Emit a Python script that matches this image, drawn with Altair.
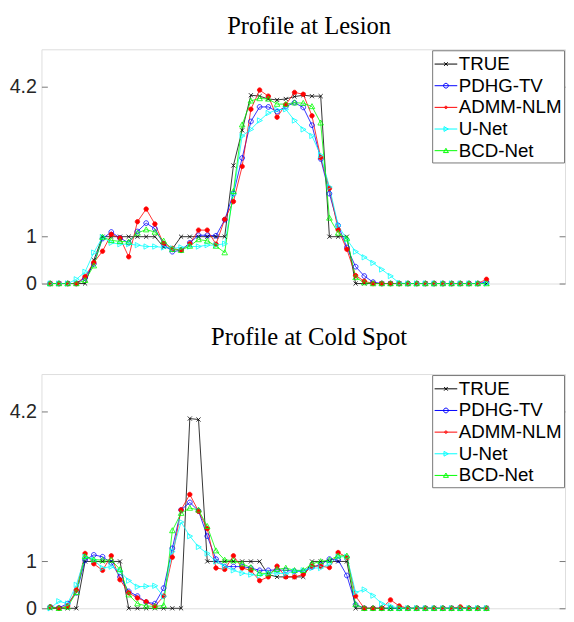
import altair as alt
import pandas as pd

methods = ["TRUE", "PDHG-TV", "ADMM-NLM", "U-Net", "BCD-Net"]
colors = ["#000000", "#0000ff", "#ff0000", "#00ffff", "#00ff00"]
x_idx = list(range(1, 52))
y_ticks = [0, 1, 4.2]

# ---- Profile at Lesion ----
lesion_true = [0, 0, 0, 0, 0, 0.5, 1, 1, 1, 1, 1, 1, 1, 0.78, 0.74, 1, 1, 1, 1, 1, 1,
               2.52, 3.27, 4.02, 4.0, 3.94, 3.92, 3.94, 3.99, 4.02, 4.0, 4.0, 1, 1, 1,
               0, 0, 0, 0, 0, 0, 0, 0, 0, 0, 0, 0, 0, 0, 0, 0]
lesion_pdhg = [0, 0, 0, 0, 0.12, 0.42, 0.96, 1.10, 0.97, 0.87, 1.11, 1.29, 1.17, 0.84,
               0.68, 0.71, 0.87, 1.03, 1.03, 1.02, 1.36, 1.92, 2.68, 3.46, 3.77, 3.77,
               3.67, 3.78, 3.86, 3.76, 3.38, 2.66, 1.92, 1.24, 0.77, 0.36, 0.16, 0.03,
               0, 0, 0, 0, 0, 0, 0, 0, 0, 0, 0, 0, 0.03]
lesion_admm = [0, 0, 0, 0, 0.15, 0.45, 0.69, 1.05, 0.97, 0.57, 1.32, 1.59, 1.27, 0.85,
               0.75, 0.71, 0.85, 1.14, 1.14, 0.84, 1.37, 1.75, 2.50, 3.72, 4.13, 4.00,
               3.55, 3.82, 4.08, 4.04, 3.58, 2.69, 2.03, 1.15, 0.73, 0.17, 0.05, 0,
               0, 0, 0, 0, 0, 0, 0, 0, 0, 0, 0, 0, 0.09]
lesion_unet = [0, 0, 0, 0.09, 0.25, 0.66, 0.99, 0.87, 0.84, 0.84, 0.82, 0.79, 0.79, 0.77,
               0.75, 0.77, 0.79, 0.79, 0.82, 0.82, 0.85, 1.90, 3.15, 3.29, 3.48, 3.64,
               3.71, 3.72, 3.48, 3.29, 3.15, 2.74, 2.06, 1.24, 0.94, 0.68, 0.56, 0.44,
               0.30, 0.16, 0.01, 0, 0, 0, 0, 0, 0, 0, 0, 0, 0]
lesion_bcd = [0, 0, 0, 0, 0.07, 0.38, 0.99, 0.92, 0.90, 0.89, 1.08, 1.15, 1.10, 0.91,
              0.73, 0.71, 0.80, 0.94, 0.91, 0.80, 0.66, 1.97, 3.39, 3.90, 3.95, 3.94,
              3.83, 3.83, 3.86, 3.85, 3.78, 3.43, 1.40, 1.08, 0.96, 0.13, 0.02, 0,
              0, 0, 0, 0, 0, 0, 0, 0, 0, 0, 0, 0, 0]

# ---- Profile at Cold Spot ----
cold_true = [0, 0, 0, 0, 1, 1, 1, 1, 1, 0, 0, 0, 0, 0, 0, 0, 4.05, 4.03, 1, 1, 1, 1, 1,
             1, 1, 0.72, 0.67, 0.67, 0.67, 0.67, 1, 1, 1, 1, 1,
             0, 0, 0, 0, 0, 0, 0, 0, 0, 0, 0, 0, 0, 0, 0, 0]
cold_pdhg = [0.03, 0.01, 0.10, 0.33, 1.03, 1.14, 1.10, 0.97, 0.67, 0.36, 0.26, 0.13,
             0.10, 0.43, 1.28, 2.10, 2.26, 2.08, 1.54, 1.05, 0.89, 0.89, 0.89, 0.86,
             0.81, 0.81, 0.82, 0.81, 0.79, 0.79, 0.88, 0.93, 1.05, 1.03, 0.70, 0.08,
             0, 0, 0, 0, 0, 0, 0, 0, 0, 0, 0, 0, 0, 0, 0]
cold_admm = [0.03, 0, 0.05, 0.39, 1.17, 0.95, 0.81, 1.12, 0.61, 0.33, 0.22, 0.14, 0.04,
             0.26, 1.09, 2.10, 2.43, 2.07, 1.70, 0.86, 0.83, 1.12, 0.86, 0.81, 0.59,
             0.67, 0.90, 0.67, 0.67, 0.72, 0.90, 0.90, 0.87, 1.19, 1.09, 0.26, 0, 0,
             0, 0.18, 0.05, 0, 0, 0, 0, 0, 0, 0.03, 0, 0, 0]
cold_unet = [0, 0.15, 0.10, 0.50, 1.10, 1.03, 0.86, 0.89, 0.79, 0.59, 0.46, 0.47, 0.48,
             0.25, 1.21, 1.84, 1.54, 1.31, 1.17, 1.00, 0.89, 0.81, 0.75, 0.72, 0.70,
             0.75, 0.75, 0.74, 0.79, 0.81, 0.86, 0.86, 0.95, 1.10, 1.10, 0.34, 0.40,
             0.27, 0.10, 0.05, 0, 0, 0, 0, 0, 0, 0, 0, 0, 0, 0]
cold_bcd = [0.03, 0, 0.03, 0.34, 1.11, 1.04, 1.03, 1.03, 0.83, 0.29, 0.10, 0.05, 0.04,
            0.06, 1.66, 2.03, 2.14, 2.10, 1.75, 1.23, 1.03, 1.02, 0.95, 0.87, 0.75,
            0.74, 0.83, 0.86, 0.81, 0.81, 0.95, 1.00, 1.03, 1.12, 1.12, 0.08,
            0, 0, 0, 0, 0, 0, 0, 0, 0, 0, 0, 0, 0, 0, 0]

marker_paths = [
    "M-0.7,-0.7L0.7,0.7M-0.7,0.7L0.7,-0.7",
    "M0.8,0A0.8,0.8,0,1,1,-0.8,0A0.8,0.8,0,1,1,0.8,0Z",
    "M0.75,0A0.75,0.75,0,1,1,-0.75,0A0.75,0.75,0,1,1,0.75,0Z",
    "M-0.75,-0.9L0.95,0L-0.75,0.9Z",
    "M0,-0.95L0.95,0.75L-0.95,0.75Z",
]
legend_paths = [
    "M-1,0H1M-0.16,-0.16L0.16,0.16M-0.16,0.16L0.16,-0.16",
    "M-1,0H1M0.21,0A0.21,0.21,0,1,1,-0.21,0A0.21,0.21,0,1,1,0.21,0Z",
    "M-1,0H1M0.11,0A0.11,0.11,0,1,1,-0.11,0A0.11,0.11,0,1,1,0.11,0Z",
    "M-1,0H1M-0.17,-0.21L0.21,0L-0.17,0.21Z",
    "M-1,0H1M0,-0.21L0.22,0.17L-0.22,0.17Z",
]

W = 532
H = 238
FRAME = "#777777"
TXT = "#262626"


def make_df(series):
    rows = []
    for m, vals in zip(methods, series):
        for i, v in zip(x_idx, vals):
            rows.append({"x": i, "v": v, "method": m})
    return pd.DataFrame(rows)


def legend():
    return alt.Legend(
        title=None, orient="top-right", offset=1, padding=2, rowPadding=0,
        labelFont="Liberation Sans", labelFontSize=19, labelColor="#000000",
        labelOffset=1, symbolSize=529, symbolStrokeWidth=1, symbolOpacity=1,
        symbolFillColor="transparent",
        strokeColor=FRAME, fillColor="#ffffff", cornerRadius=0,
    )


def panel(df, title, title_offset):
    yscale = alt.Scale(domain=[0, 5], nice=False, zero=False)
    xenc = alt.X("x:Q", scale=alt.Scale(domain=[0, 60], nice=False, zero=False), axis=None)
    cscale = alt.Scale(domain=methods, range=colors)
    left_axis = alt.Axis(values=y_ticks, format=".2~g", orient="left", offset=-6, tickSize=6,
                         domain=False, grid=False, title=None, labelFont="Liberation Sans",
                         labelFontSize=20, labelColor=TXT, labelPadding=5,
                         tickColor=FRAME, tickWidth=1)
    right_axis = alt.Axis(values=y_ticks, orient="right", offset=-6, tickSize=6,
                          domain=False, grid=False, title=None, labels=False,
                          tickColor=FRAME, tickWidth=1)
    lines = alt.Chart(df).mark_line(strokeWidth=0.8).encode(
        x=xenc,
        y=alt.Y("v:Q", scale=yscale, axis=left_axis),
        color=alt.Color("method:N", scale=cscale, legend=None),
        order=alt.Order("x:Q"),
    )
    pts = alt.Chart(df).mark_point(filled=False, size=36, strokeWidth=0.8, opacity=1).encode(
        x=xenc,
        y=alt.Y("v:Q", scale=yscale, axis=right_axis),
        color=alt.Color("method:N", scale=cscale, legend=None),
        shape=alt.Shape("method:N", scale=alt.Scale(domain=methods, range=marker_paths),
                        legend=None),
        fill=alt.condition(alt.datum.method == "ADMM-NLM", alt.value("#ff0000"),
                           alt.value("transparent")),
    )
    leg = alt.Chart(df).transform_filter("false").mark_point(
        filled=False, size=529, strokeWidth=1, opacity=1
    ).encode(
        x=xenc,
        y=alt.Y("v:Q", scale=yscale, axis=None),
        color=alt.Color("method:N", scale=cscale, legend=legend()),
        shape=alt.Shape("method:N", scale=alt.Scale(domain=methods, range=legend_paths),
                        legend=legend()),
    )
    return alt.layer(lines, pts, leg).resolve_axis(y="independent").resolve_scale(
        color="independent", shape="independent"
    ).resolve_legend(color="independent", shape="independent").properties(
        width=W, height=H,
        title=alt.TitleParams(title, font="Liberation Serif", fontSize=25,
                              fontWeight="normal", color="#000000", dx=6,
                              offset=title_offset, frame="group", anchor="middle"),
    )


top = panel(make_df([lesion_true, lesion_pdhg, lesion_admm, lesion_unet, lesion_bcd]),
            "Profile at Lesion", 11)
bottom = panel(make_df([cold_true, cold_pdhg, cold_admm, cold_unet, cold_bcd]),
               "Profile at Cold Spot", 25)

chart = alt.vconcat(top, bottom, spacing=30).resolve_scale(
    color="independent", shape="independent"
).resolve_legend(color="independent", shape="independent").properties(
    padding=0
).configure_view(stroke=FRAME, strokeWidth=1).configure(background="#ffffff")

chart.save("out.html", embed_options={"renderer": "svg", "actions": False})
